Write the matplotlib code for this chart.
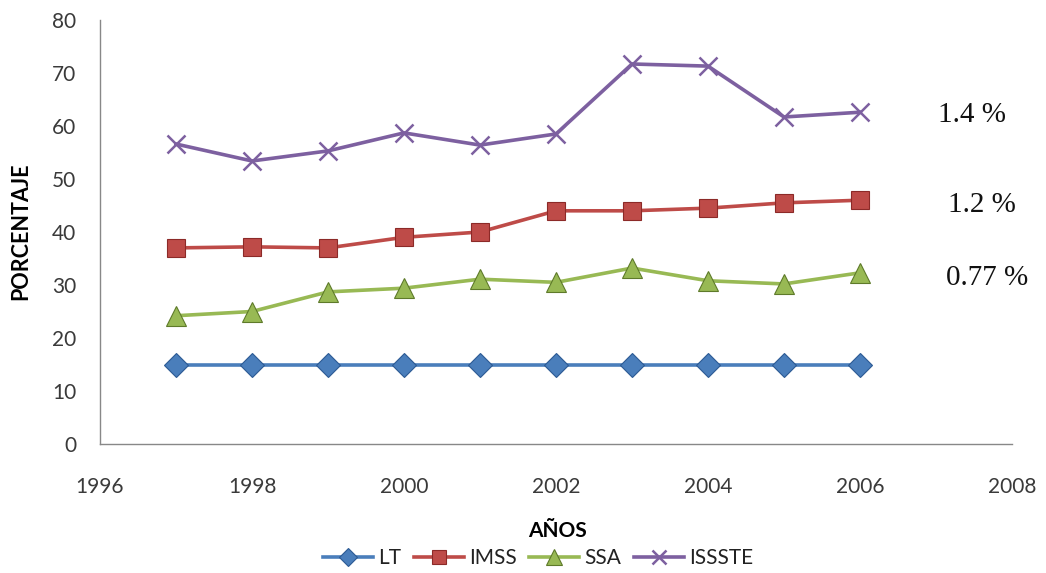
import matplotlib
matplotlib.use("Agg")
import matplotlib.pyplot as plt

years = [1997, 1998, 1999, 2000, 2001, 2002, 2003, 2004, 2005, 2006]
lt = [15, 15, 15, 15, 15, 15, 15, 15, 15, 15]
imss = [37.0, 37.2, 37.0, 39.0, 40.0, 44.0, 44.0, 44.5, 45.5, 46.0]
ssa = [24.2, 25.0, 28.7, 29.4, 31.1, 30.5, 33.2, 30.8, 30.2, 32.3]
issste = [56.6, 53.4, 55.3, 58.7, 56.4, 58.5, 71.7, 71.3, 61.7, 62.6]

rates = ["1.4 %", "1.2 %", "0.77 %"]
rate_x = [2007.47, 2007.6, 2007.67]
rate_y = [62.1, 45.1, 31.3]

x_ticks = [1996, 1998, 2000, 2002, 2004, 2006, 2008]
y_ticks = [0, 10, 20, 30, 40, 50, 60, 70, 80]

fig = plt.figure(figsize=(10.46, 5.73), dpi=100)
ax = fig.add_axes([100 / 1046, 129 / 573, 912 / 1046, 424 / 573])

series = [
    ("LT", lt, "#4A7EBB", "D", 12, "#2C5A94"),
    ("IMSS", imss, "#BE4B48", "s", 13, "#8C2A28"),
    ("SSA", ssa, "#98B954", "^", 14, "#5E7A2A"),
    ("ISSSTE", issste, "#7D60A0", "x", 13, "#7D60A0"),
]
for name, vals, color, marker, ms, edge in series:
    kw = dict(color=color, lw=2.6, marker=marker, markersize=ms, label=name)
    if marker == "x":
        kw.update(markeredgewidth=1.8)
    else:
        kw.update(markerfacecolor=color, markeredgecolor=edge, markeredgewidth=0.8)
    ax.plot(years, vals, **kw)

ax.set_xlim(1996, 2008)
ax.set_ylim(0, 80)
ax.set_xticks(x_ticks)
ax.set_yticks(y_ticks)
for s in ("top", "right"):
    ax.spines[s].set_visible(False)
for s in ("left", "bottom"):
    ax.spines[s].set_color("#888888")
    ax.spines[s].set_linewidth(1.0)
ax.tick_params(length=0, labelsize=15, colors="#3a3a3a", labelfontfamily="Lato")
ax.tick_params(axis="x", pad=24)
ax.tick_params(axis="y", pad=17)

for txt, x, y in zip(rates, rate_x, rate_y):
    ax.text(x, y, txt, family="Liberation Serif", fontsize=21,
            ha="center", va="center", color="#111111", clip_on=False)

fig.text(21 / 1046, 1 - 231 / 573, "PORCENTAJE", rotation=90, ha="center",
         va="center", fontsize=15.5, fontweight="bold", family="Lato")
fig.text(557 / 1046, 1 - 531 / 573, "AÑOS", ha="center", va="center",
         fontsize=15, fontweight="bold", family="Lato")

leg = fig.legend(loc="center", bbox_to_anchor=(538 / 1046, 1 - 558 / 573),
                 ncol=4, frameon=False, handlelength=2.4,
                 columnspacing=0.6, handletextpad=0.25, markerscale=0.8,
                 borderpad=0.1, labelcolor="#222222",
                 prop={"family": "Lato", "size": 15})

fig.savefig("out.png", dpi=100, facecolor="white")
